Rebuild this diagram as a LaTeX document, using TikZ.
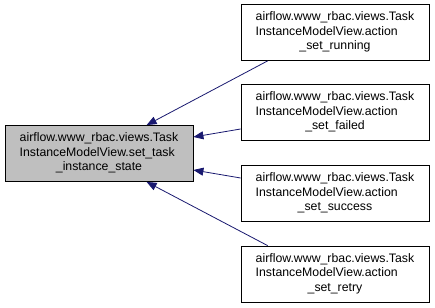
\documentclass[tikz,border=0pt]{standalone}
\usepackage{fontspec}
\setmainfont{Liberation Sans}
\usetikzlibrary{arrows.meta}
\definecolor{edgeblue}{HTML}{191970}
\definecolor{focusgray}{HTML}{BFBFBF}
\tikzset{
  fnbox/.style={draw=black, line width=0.8pt, minimum width=188pt, minimum height=56pt,
    inner sep=0pt, font=\fontsize{12.3}{14.5}\selectfont},
  focusbox/.style={fnbox, fill=focusgray},
  calledge/.style={draw=edgeblue, line width=0.8pt,
    -{Triangle[length=10pt,width=8pt]}},
}
\newcommand{\fnlabel}[3]{\begin{tabular}{@{}l@{}}#1\\#2\\\multicolumn{1}{@{}c@{}}{#3}\end{tabular}}
\begin{document}
\begin{tikzpicture}[x=1pt,y=1pt]
  \useasboundingbox (0,0) rectangle (435,307);
  \fill[white] (0,0) rectangle (435,307);
  \node[focusbox] (state) at (99,153.5)
    {\fnlabel{airflow.www\_rbac.views.Task}{InstanceModelView.set\_task}{\_instance\_state}};
  \node[fnbox] (running) at (335,274.5)
    {\fnlabel{airflow.www\_rbac.views.Task}{InstanceModelView.action}{\_set\_running}};
  \node[fnbox] (failed) at (335,194.5)
    {\fnlabel{airflow.www\_rbac.views.Task}{InstanceModelView.action}{\_set\_failed}};
  \node[fnbox] (success) at (335,113.5)
    {\fnlabel{airflow.www\_rbac.views.Task}{InstanceModelView.action}{\_set\_success}};
  \node[fnbox] (retry) at (335,33)
    {\fnlabel{airflow.www\_rbac.views.Task}{InstanceModelView.action}{\_set\_retry}};
  \draw[calledge] ([xshift=27pt]running.south west) -- ([xshift=142pt]state.north west);
  \draw[calledge] ([yshift=-16.5pt]failed.west) -- ([yshift=16.5pt]state.east);
  \draw[calledge] ([yshift=15.5pt]success.west) -- ([yshift=-16.5pt]state.east);
  \draw[calledge] ([xshift=27pt]retry.north west) -- ([xshift=142pt]state.south west);
\end{tikzpicture}
\end{document}
